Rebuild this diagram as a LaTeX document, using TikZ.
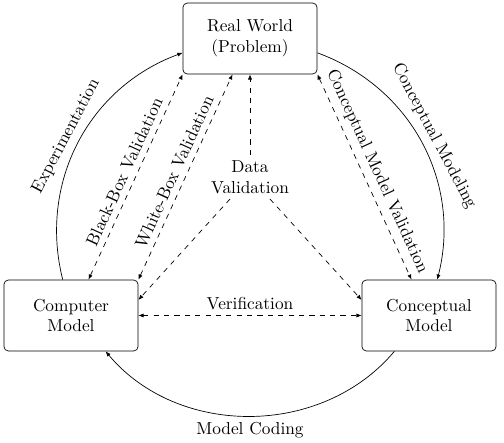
\documentclass[tikz,border=0pt]{standalone}
\usetikzlibrary{arrows.meta}
\begin{document}
\begin{tikzpicture}[x=0.578pt,y=-0.578pt,
  >={Latex[length=3pt,width=2.4pt]},
  box/.style={draw, rounded corners=2.5pt, minimum width=77.5pt, minimum height=41pt, align=center},
  lbl/.style={midway, above, sloped},
  dv/.style={align=center, inner sep=3pt}]
\useasboundingbox (0,0) rectangle (504,443);
\node[box] (rw) at (250,38.5) {Real World\\(Problem)};
\node[box] (comp) at (71,315.5) {Computer\\Model};
\node[box] (conc) at (429,315.5) {Conceptual\\Model};
\node[dv] (dval) at (250,177) {Data\\Validation};

\draw[->] (comp.103) to[bend left=42] node[lbl] {Experimentation} (rw.192);
\draw[->] (rw.-12) to[bend left=42] node[lbl] {Conceptual Modeling} (conc.77);
\draw[->] (conc.226) to[bend left=50] node[midway, below] {Model Coding} (comp.314);

\draw[<->, dashed] (comp.64) -- node[lbl] {Black-Box Validation} (rw.south west);
\draw[<->, dashed] (comp.north east) -- node[lbl] {White-Box Validation} (rw.244);
\draw[<->, dashed] (rw.south east) -- node[lbl] {Conceptual Model Validation} (conc.116);
\draw[<->, dashed] (comp.east) -- node[midway, above] {Verification} (conc.west);
\draw[->, dashed] (dval) -- (rw.south);
\draw[->, dashed] (dval) -- (comp.13);
\draw[->, dashed] (dval) -- (conc.167);
\end{tikzpicture}
\end{document}
